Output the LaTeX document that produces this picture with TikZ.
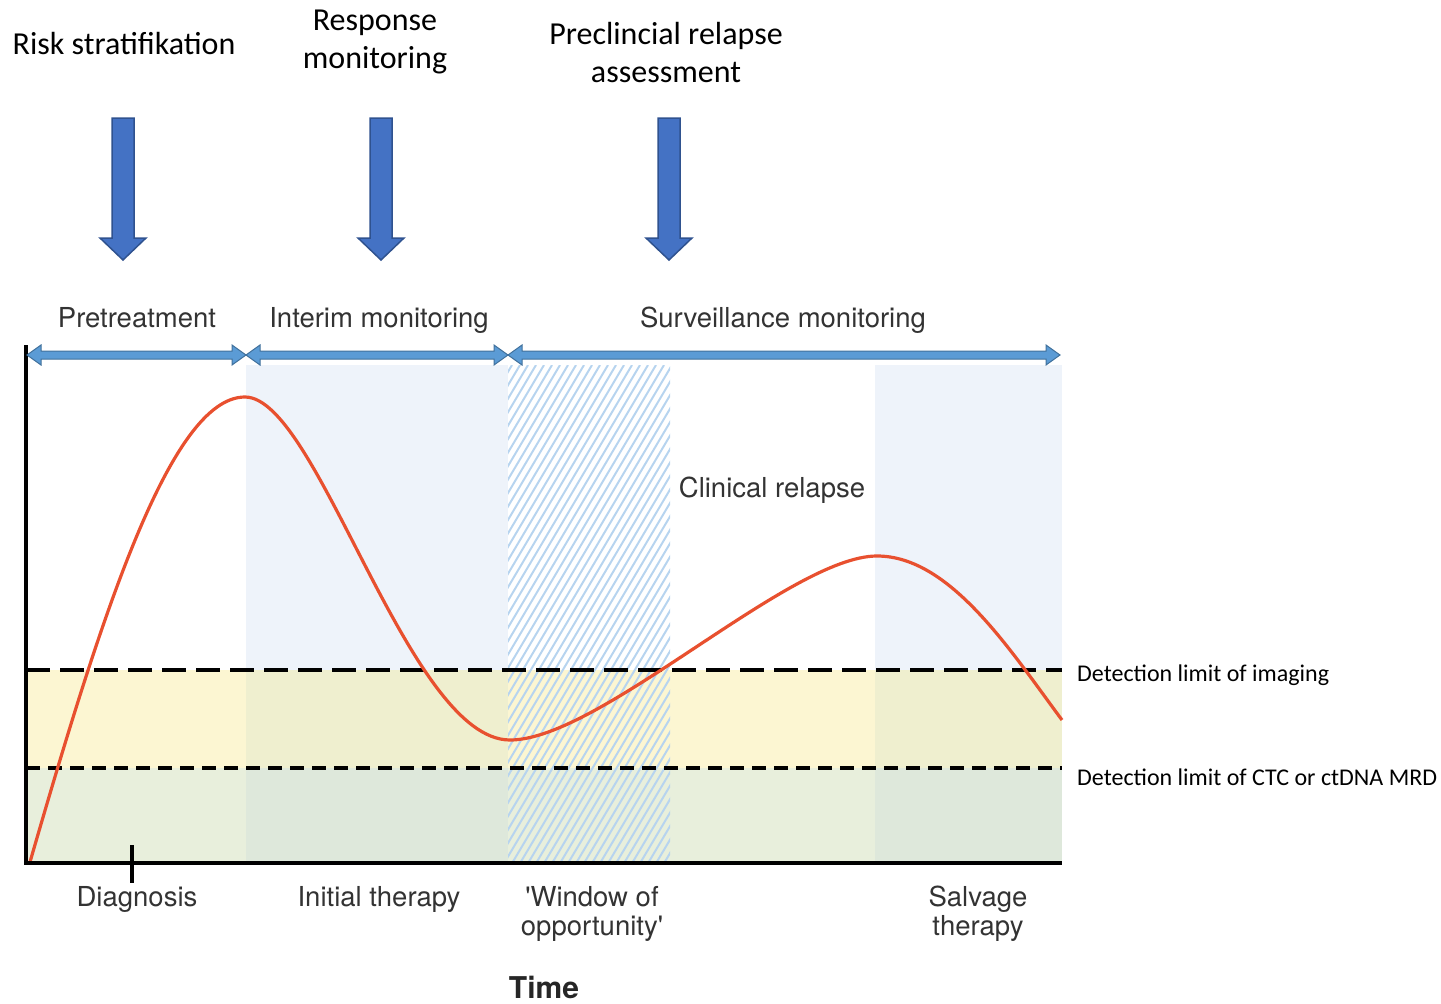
\documentclass[tikz,border=0pt]{standalone}
\usepackage{fontspec}
\setmainfont{TeX Gyre Heros}
\newfontfamily\calfont{Carlito}
\definecolor{yel}{HTML}{FCF6D2}
\definecolor{grn}{HTML}{E8EFDC}
\definecolor{lblue}{HTML}{EEF3FA}
\definecolor{yelb}{HTML}{EFEFCF}
\definecolor{grnb}{HTML}{DEE8DB}
\definecolor{hatchc}{HTML}{B7D4EF}
\definecolor{arrfill}{HTML}{4472C4}
\definecolor{arredge}{HTML}{2F528F}
\definecolor{dblfill}{HTML}{5B9BD5}
\definecolor{dbledge}{HTML}{41719C}
\definecolor{curvec}{HTML}{E8502F}
\definecolor{txtgray}{HTML}{333333}
\tikzset{
  graylabel/.style={inner sep=0pt, text=txtgray, font=\fontsize{27.5}{29}\selectfont, align=center, anchor=base},
  heading/.style={inner sep=0pt, text=black, font=\calfont\fontsize{32}{38}\selectfont, align=center},
  limitlabel/.style={inner sep=0pt, text=black, font=\calfont\fontsize{24}{29}\selectfont, anchor=west},
  bluedown/.style={fill=arrfill, draw=arredge, line width=1.5pt},
  dblarrow/.style={fill=dblfill, draw=dbledge, line width=1pt},
  curveline/.style={draw=curvec, line width=3.2pt},
}
\begin{document}
\begin{tikzpicture}[x=1pt,y=-1pt]
\useasboundingbox (0,0) rectangle (1441,1004);
% background bands
\fill[yel] (26,670) rectangle (1062,768);
\fill[grn] (26,768) rectangle (1062,863);
\foreach \a/\b in {246/508, 875/1062}{
  \fill[lblue] (\a,365) rectangle (\b,670);
  \fill[yelb] (\a,670) rectangle (\b,768);
  \fill[grnb] (\a,768) rectangle (\b,863);
}
% hatched window of opportunity
\begin{scope}
  \clip (508,365) rectangle (670,862);
  \foreach \i in {0,...,70}{
    \draw[hatchc, line width=2pt] ({180+\i*8},870) -- ++(300,-505);
  }
\end{scope}
% detection limits
\draw[line width=3.6pt, dash pattern=on 24pt off 10pt] (26,670) coordinate (imgL) -- (1062,670) coordinate (imgR);
\draw[line width=3.2pt, dash pattern=on 14pt off 8pt] (26,768) coordinate (ctcL) -- (1062,768) coordinate (ctcR);
% tumour burden curve
\draw[curveline] (30,862) .. controls (100,620) and (170,397) .. (245,397)
  .. controls (318,397) and (408,740) .. (510,740)
  .. controls (600,740) and (790,556) .. (877,556)
  .. controls (950,556) and (1010,650) .. (1062,720);
% axes
\draw[line width=3.6pt] (26,345) -- (26,863) -- (1062,863);
\draw[line width=4.5pt] (132,845) -- (132,883);
% phase double arrows
\foreach \a/\b in {27/246, 246/508, 508/1060}{
  \filldraw[dblarrow] (\a,355) -- ({\a+14},345) -- ({\a+14},351) -- ({\b-14},351) -- ({\b-14},345)
    -- (\b,355) -- ({\b-14},365) -- ({\b-14},359) -- ({\a+14},359) -- ({\a+14},365) -- cycle;
}
% blue down arrows
\foreach \x in {123,381,669}{
  \filldraw[bluedown] ({\x-11},118) -- ({\x+11},118) -- ({\x+11},238) -- ({\x+23},238)
    -- (\x,260) -- ({\x-23},238) -- ({\x-11},238) -- cycle;
}
% headings
\node[heading] (risk) at (124,44) {Risk stratifikation};
\node[heading] (resp) at (375,42) {Response\\monitoring};
\node[heading] (precl) at (666,53) {Preclincial relapse\\assessment};
% phase labels
\node[graylabel] (pre) at (137,327) {Pretreatment};
\node[graylabel] (interim) at (379,327) {Interim monitoring};
\node[graylabel] (surv) at (783,327) {Surveillance monitoring};
\node[graylabel] (clin) at (772,497) {Clinical relapse};
\node[graylabel] (diag) at (137,906) {Diagnosis};
\node[graylabel] (init) at (379,906) {Initial therapy};
\node[graylabel] (win) at (592,935) {\textquotesingle Window of\\opportunity\textquotesingle};
\node[graylabel] (salv) at (978,935) {Salvage\\therapy};
\node[graylabel, text=black!85, font=\bfseries\fontsize{30}{34}\selectfont] (time) at (544,998) {Time};
% detection limit labels
\node[limitlabel] (imglab) at (1077,675) {Detection limit of imaging};
\node[limitlabel] (ctclab) at (1077,777) {Detection limit of CTC or ctDNA MRD};
\end{tikzpicture}
\end{document}
